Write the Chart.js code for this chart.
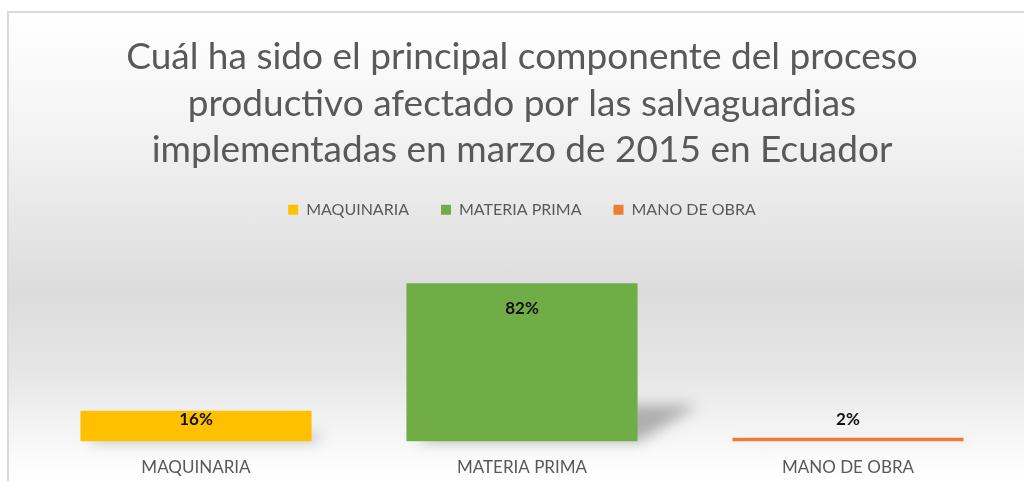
<!DOCTYPE html>
<html><head><meta charset="utf-8">
<script src="https://cdn.jsdelivr.net/npm/chart.js@4"></script>
<style>
html,body{margin:0;padding:0;background:#fff;width:1024px;height:481px;overflow:hidden;}
#panel{position:absolute;left:7px;top:11px;width:1100px;height:520px;border-left:2px solid #d9d9d9;border-top:2px solid #d9d9d9;
background:linear-gradient(to bottom,#ffffff 0px,#f3f3f3 120px,#dcdcdc 280px,#e6e6e6 360px,#fbfbfb 445px,#ffffff 470px);}
#wrap{position:absolute;left:0;top:0;width:1024px;height:481px;overflow:hidden;}
</style></head>
<body>
<div id="panel"></div>
<div id="wrap"><canvas id="c" width="1024" height="494"></canvas></div>
<script>
const categories = ["MAQUINARIA", "MATERIA PRIMA", "MANO DE OBRA"];
const seriesNames = ["MAQUINARIA", "MATERIA PRIMA", "MANO DE OBRA"];
const values = [16, 82, 2];
const colors = ["#FFC000", "#70AD47", "#ED7D31"];
const titleLines = ["Cuál ha sido el principal componente del proceso", "productivo afectado por las salvaguardias", "implementadas en marzo de 2015 en Ecuador"];

const datasets = seriesNames.map((n, i) => ({
  label: n,
  data: categories.map((c, j) => j === i ? values[i] : null),
  backgroundColor: colors[i],
  borderWidth: 0
}));

const shadowPlugin = {
  id: 'shadow',
  beforeDatasetsDraw(chart) {
    const ctx = chart.ctx;
    ctx.save();
    ctx.filter = 'blur(7px)';
    chart.data.datasets.forEach((ds, i) => {
      const meta = chart.getDatasetMeta(i);
      meta.data.forEach((el, j) => {
        if (ds.data[j] == null) return;
        const w = el.width, base = el.base, h = base - el.y;
        const left = el.x - w / 2, right = el.x + w / 2;
        const sh = h * 0.23, sk = h * 0.38;
        ctx.fillStyle = 'rgba(0,0,0,0.28)';
        ctx.beginPath();
        ctx.moveTo(left + 10, base);
        ctx.lineTo(right + 2, base);
        ctx.lineTo(right + sk, base - sh);
        ctx.lineTo(left + sk, base - sh);
        ctx.closePath();
        ctx.fill();
      });
    });
    ctx.restore();
  }
};

const labelPlugin = {
  id: 'dlabels',
  afterDatasetsDraw(chart) {
    const ctx = chart.ctx;
    ctx.save();
    ctx.font = 'bold 17px Lato, "Open Sans", sans-serif';
    ctx.fillStyle = '#111';
    ctx.textAlign = 'center';
    ctx.textBaseline = 'middle';
    chart.data.datasets.forEach((ds, i) => {
      const meta = chart.getDatasetMeta(i);
      meta.data.forEach((el, j) => {
        const v = ds.data[j];
        if (v == null) return;
        const y = Math.min(el.y + 25, el.base - 22);
        ctx.fillText(v + '%', el.x, y);
      });
    });
    ctx.restore();
  }
};

new Chart(document.getElementById('c'), {
  type: 'bar',
  data: { labels: categories, datasets },
  plugins: [shadowPlugin, labelPlugin],
  options: {
    responsive: false,
    animation: false,
    layout: { padding: { left: 33, right: 13, top: 0, bottom: 0 } },
    datasets: { bar: { skipNull: true, categoryPercentage: 1, barPercentage: 0.709 } },
    plugins: {
      title: {
        display: true,
        text: titleLines,
        color: '#595959',
        font: { family: 'Lato, "Open Sans", sans-serif', size: 37, weight: 'normal', lineHeight: 1.26 },
        padding: { top: 34, bottom: -4 }
      },
      legend: {
        display: true,
        position: 'top',
        labels: {
          color: '#595959',
          font: { family: 'Lato, "Open Sans", sans-serif', size: 16 },
          boxWidth: 10, boxHeight: 10, padding: 32
        }
      },
      tooltip: { enabled: false }
    },
    scales: {
      x: {
        grid: { display: false, drawTicks: false },
        border: { display: false },
        ticks: { color: '#595959', font: { family: 'Lato, "Open Sans", sans-serif', size: 17 }, padding: 16 }
      },
      y: { display: false, min: 0, max: 110.6 }
    }
  }
});
</script>
</body></html>
